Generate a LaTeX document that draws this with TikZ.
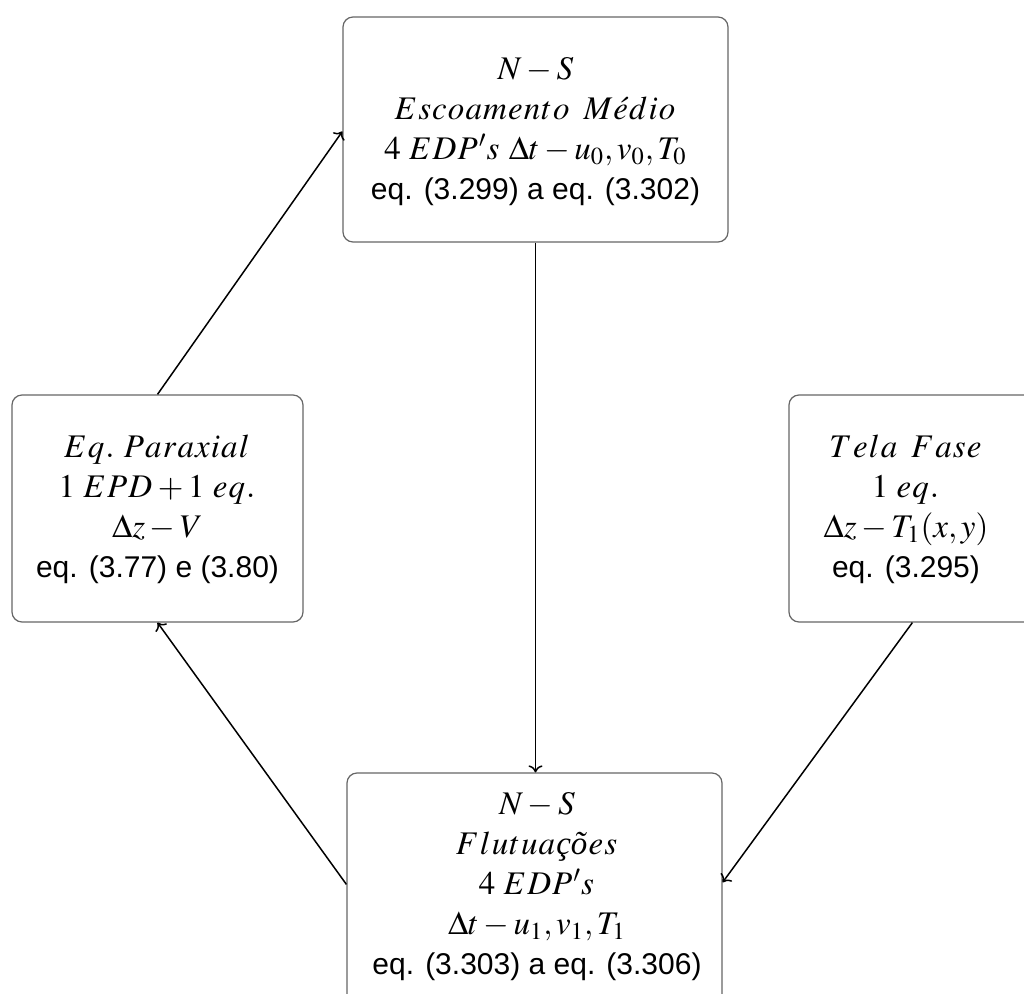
\documentclass[tikz,border=0pt]{standalone}
\usepackage{mathptmx}
\usepackage{fontspec}
\setmainfont{Liberation Serif}
\setsansfont{Liberation Sans}
\usetikzlibrary{calc,arrows.meta}
\newcommand\ml[1]{{\fontsize{16.5}{20}\selectfont$#1$}}
\makeatletter
\def\mw@end{\mw@end}
\def\mw#1{\mw@loop#1\mw@end}
\def\mw@loop#1{\ifx#1\mw@end\else#1\mkern0.6mu\expandafter\mw@loop\fi}
\makeatother
\newcommand\wsp{\mkern7mu}
\begin{document}
\begin{tikzpicture}[x=0.5pt,y=-0.5pt,
  box/.style={draw=black!60, line width=0.6pt, rounded corners=5pt, inner sep=0pt},
  txt/.style={align=center, font=\fontsize{15}{20}\selectfont, inner sep=0pt},
  conn/.style={-{To[length=3.5pt,width=7pt]}, line width=0.75pt, draw=black}]
\useasboundingbox (0,0) rectangle (1024,994);
\clip (0,0) rectangle (1024,994);
% boxes
\node[box, minimum width=192.5pt, minimum height=112.5pt] (top) at (535.5,129.5) {};
\node[box, minimum width=145.5pt, minimum height=113.5pt] (left) at (157.5,508.5) {};
\node[box, minimum width=145.5pt, minimum height=113.5pt] (right) at (934.5,508.5) {};
\node[box, minimum width=187.5pt, minimum height=130pt] (bot) at (534.5,903) {};
% texts
\node[txt] (toptxt) at (535.5,132) {\ml{N-S}\\\ml{\mw{Escoamento}\wsp\mw{M}\acute{e}\mkern0.6mu\mw{dio}}\\\ml{4\ \mw{EDP}{}'\mw{s}\ \Delta t-u_0,v_0,T_0}\\\textsf{eq. (3.299) a eq. (3.302)}};
\node[txt] (lefttxt) at (157.5,509) {\ml{\mw{Eq.}\ \mw{Paraxial}}\\\ml{1\ \mw{EPD}+1\ \mw{eq.}}\\\ml{\Delta z-V}\\\textsf{eq. (3.77) e (3.80)}};
\node[txt] (righttxt) at (906,509) {\ml{\mw{Tela}\wsp\mw{Fase}}\\\ml{1\ \mw{eq.}}\\\ml{\Delta z-T_1(x,y)}\\\textsf{eq. (3.295)}};
\node[txt] (bottxt) at (537,887) {\ml{N-S}\\\ml{\mw{Flutua}\mbox{\itshape çõ}\mkern0.6mu\mw{es}}\\\ml{4\ \mw{EDP}{}'\mw{s}}\\\ml{\Delta t-u_1,v_1,T_1}\\\textsf{eq. (3.303) a eq. (3.306)}};
% connectors
\draw[conn] (top.south) -- (top.south |- bot.north);
\draw[conn] (left.north) -- ($(top.north west)+(0,115)$);
\draw[conn] ($(bot.north west)+(0,112)$) -- (left.south);
\draw[conn] ($(right.south west)+(124,0)$) -- ($(bot.north east)+(0,110)$);
\end{tikzpicture}
\end{document}
